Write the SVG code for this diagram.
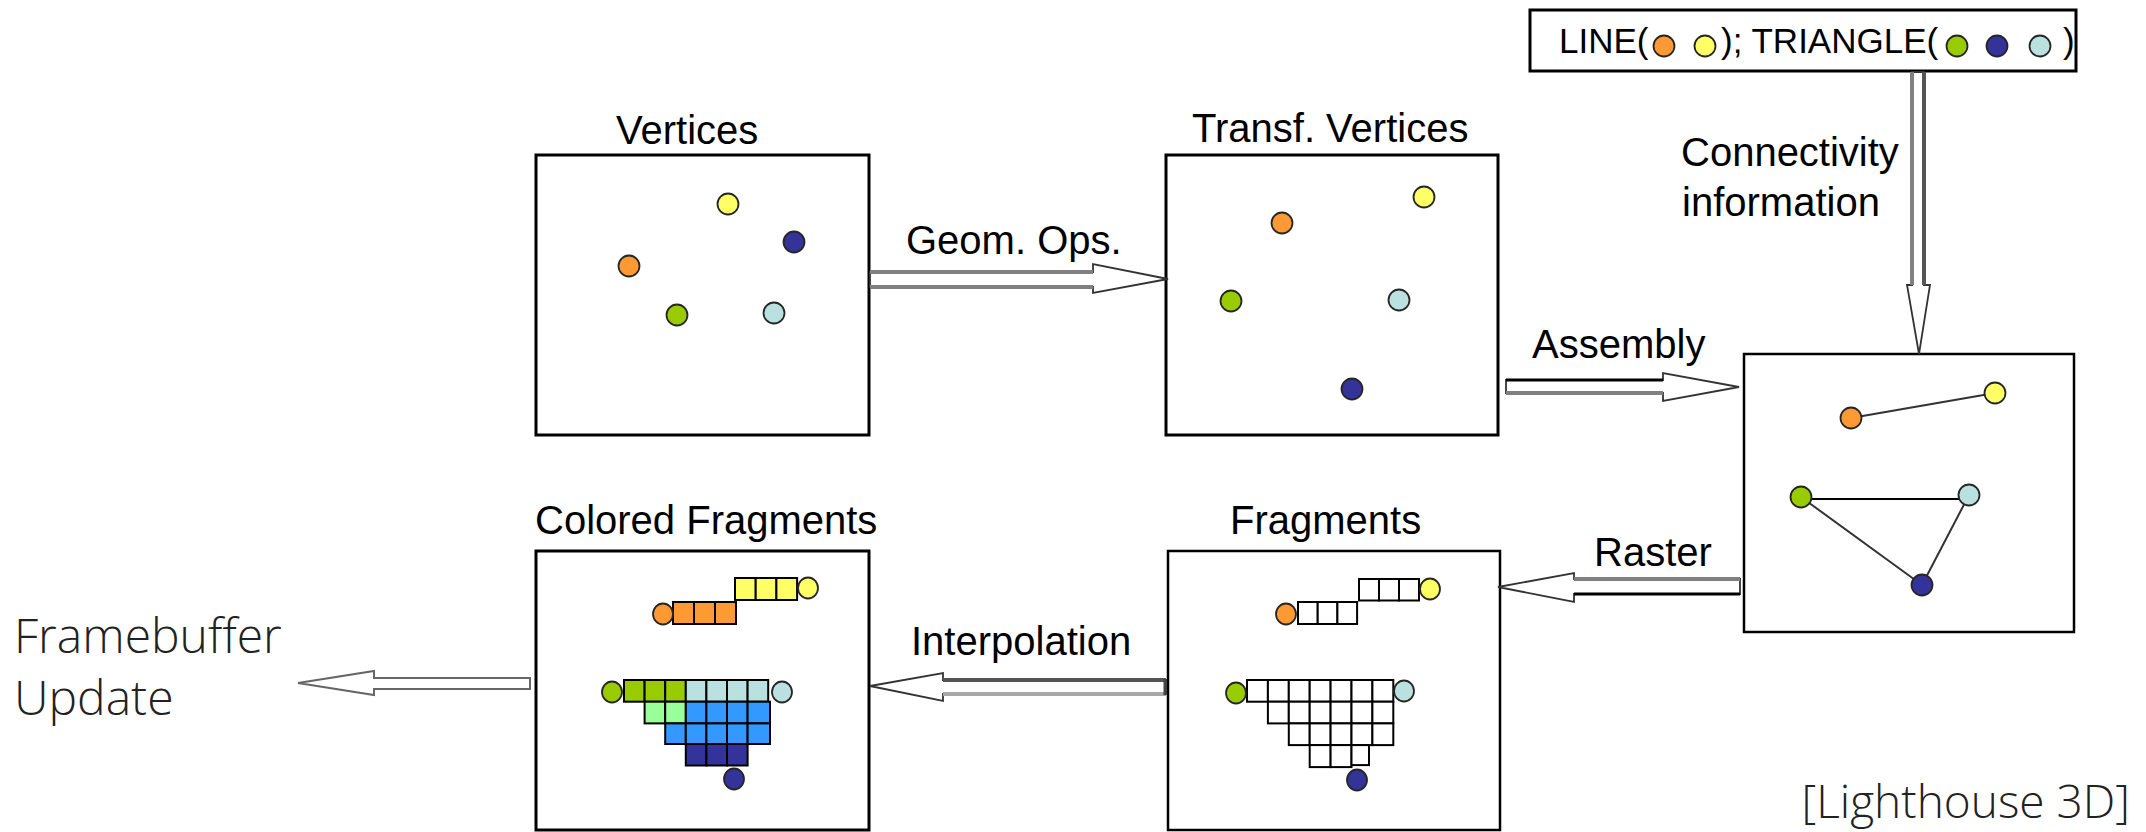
<svg xmlns="http://www.w3.org/2000/svg" width="2146" height="832" viewBox="0 0 2146 832">
  <style>
    .box { fill: #ffffff; stroke: #000000; stroke-width: 3; }
    .box2 { fill: #ffffff; stroke: #000000; stroke-width: 2.5; }
    .lbl { font-family: "Liberation Sans", Arial, sans-serif; font-size: 40px; fill: #000000; }
    .code { font-family: "Liberation Sans", Arial, sans-serif; font-size: 35px; fill: #000000; }
    .note { font-family: "Open Sans", "Liberation Sans", sans-serif; font-weight: 300; font-size: 48px; fill: #222222; }
    .credit { font-family: "Open Sans", "Liberation Sans", sans-serif; font-weight: 300; font-size: 46px; fill: #222222; }
    .dot { stroke: #262626; stroke-width: 1.8; }
    .orange { fill: #ff9933; }
    .yellow { fill: #ffff66; }
    .green { fill: #99cc00; }
    .navy { fill: #333399; }
    .cyan { fill: #bbe0e0; }
    .lgreen { fill: #99ff99; }
    .blue { fill: #3399ff; }
    .cell { stroke: #000000; stroke-width: 2; }
    .wcell { fill: #ffffff; stroke: #000000; stroke-width: 2; }
    .edge { stroke: #333333; stroke-width: 2; fill: none; }
    .head { fill: #ffffff; stroke: #333333; stroke-width: 1.8; stroke-linejoin: miter; }
    .sh-gray { stroke: #808080; stroke-width: 4; }
    .sh-dark { stroke: #555555; stroke-width: 4; }
    .sh-light { stroke: #a8a8a8; stroke-width: 4; }
    .sh-black { stroke: #000000; stroke-width: 3; }
    .fb { fill: #ffffff; stroke: #666666; stroke-width: 2; }
  </style>

  <!-- Vertices -->
  <g id="vertices">
    <text class="lbl" x="616" y="144">Vertices</text>
    <rect class="box" x="536" y="155" width="333" height="280"/>
    <ellipse class="dot yellow" cx="728" cy="204" rx="10.5" ry="10.5"/>
    <ellipse class="dot navy" cx="794" cy="242" rx="10.5" ry="10.5"/>
    <ellipse class="dot orange" cx="629" cy="266" rx="10.5" ry="10.5"/>
    <ellipse class="dot green" cx="677" cy="315" rx="10.5" ry="10.5"/>
    <ellipse class="dot cyan" cx="774" cy="313" rx="10.5" ry="10.5"/>
  </g>

  <!-- Transformed vertices -->
  <g id="transformed-vertices">
    <text class="lbl" x="1192" y="142">Transf. Vertices</text>
    <rect class="box" x="1166" y="155" width="332" height="280"/>
    <ellipse class="dot yellow" cx="1424" cy="197" rx="10.5" ry="10.5"/>
    <ellipse class="dot orange" cx="1282" cy="223" rx="10.5" ry="10.5"/>
    <ellipse class="dot green" cx="1231" cy="301" rx="10.5" ry="10.5"/>
    <ellipse class="dot cyan" cx="1399" cy="300" rx="10.5" ry="10.5"/>
    <ellipse class="dot navy" cx="1352" cy="389" rx="10.5" ry="10.5"/>
  </g>

  <!-- Connectivity information -->
  <g id="connectivity">
    <rect class="box" x="1530" y="10" width="546" height="61"/>
    <text class="code" x="1559" y="53">LINE(</text>
    <ellipse class="dot orange" cx="1664" cy="46" rx="10.5" ry="10.5"/>
    <ellipse class="dot yellow" cx="1705" cy="46" rx="10.5" ry="10.5"/>
    <text class="code" x="1721" y="53">); TRIANGLE(</text>
    <ellipse class="dot green" cx="1957" cy="46" rx="10.5" ry="10.5"/>
    <ellipse class="dot navy" cx="1997" cy="46" rx="10.5" ry="10.5"/>
    <ellipse class="dot cyan" cx="2040" cy="46" rx="10.5" ry="10.5"/>
    <text class="code" x="2063" y="53">)</text>
  </g>

  <!-- Assembled primitives -->
  <g id="primitives">
    <rect class="box2" x="1744" y="354" width="330" height="278"/>
    <line class="edge" x1="1851" y1="418" x2="1995" y2="393"/>
    <line class="edge" x1="1801" y1="497" x2="1922" y2="585"/>
    <line class="edge" x1="1969" y1="495" x2="1922" y2="585"/>
    <line x1="1801" y1="499" x2="1969" y2="499" stroke="#000000" stroke-width="1.8"/>
    <ellipse class="dot orange" cx="1851" cy="418" rx="10.5" ry="10.5"/>
    <ellipse class="dot yellow" cx="1995" cy="393" rx="10.5" ry="10.5"/>
    <ellipse class="dot green" cx="1801" cy="497" rx="10.5" ry="10.5"/>
    <ellipse class="dot cyan" cx="1969" cy="495" rx="10.5" ry="10.5"/>
    <ellipse class="dot navy" cx="1922" cy="585" rx="10.5" ry="10.5"/>
  </g>

  <!-- Fragments -->
  <g id="fragments">
    <text class="lbl" x="1230" y="534">Fragments</text>
    <rect class="box2" x="1168" y="551" width="332" height="279"/>
    <rect class="wcell" x="1359" y="579" width="20" height="21.5"/>
    <rect class="wcell" x="1379" y="579" width="20" height="21.5"/>
    <rect class="wcell" x="1399" y="579" width="20" height="21.5"/>
    <rect class="wcell" x="1298" y="602" width="19.7" height="22"/>
    <rect class="wcell" x="1317.7" y="602" width="19.7" height="22"/>
    <rect class="wcell" x="1337.4" y="602" width="19.7" height="22"/>
    <!-- row 1 -->
    <rect class="wcell" x="1247" y="680" width="20.9" height="21.7"/>
    <rect class="wcell" x="1267.9" y="680" width="20.9" height="21.7"/>
    <rect class="wcell" x="1288.8" y="680" width="20.9" height="21.7"/>
    <rect class="wcell" x="1309.7" y="680" width="20.9" height="21.7"/>
    <rect class="wcell" x="1330.6" y="680" width="20.9" height="21.7"/>
    <rect class="wcell" x="1351.5" y="680" width="20.9" height="21.7"/>
    <rect class="wcell" x="1372.4" y="680" width="20.9" height="21.7"/>
    <!-- row 2 -->
    <rect class="wcell" x="1267.9" y="701.7" width="20.9" height="21.7"/>
    <rect class="wcell" x="1288.8" y="701.7" width="20.9" height="21.7"/>
    <rect class="wcell" x="1309.7" y="701.7" width="20.9" height="21.7"/>
    <rect class="wcell" x="1330.6" y="701.7" width="20.9" height="21.7"/>
    <rect class="wcell" x="1351.5" y="701.7" width="20.9" height="21.7"/>
    <rect class="wcell" x="1372.4" y="701.7" width="20.9" height="21.7"/>
    <!-- row 3 -->
    <rect class="wcell" x="1288.8" y="723.4" width="20.9" height="21.7"/>
    <rect class="wcell" x="1309.7" y="723.4" width="20.9" height="21.7"/>
    <rect class="wcell" x="1330.6" y="723.4" width="20.9" height="21.7"/>
    <rect class="wcell" x="1351.5" y="723.4" width="20.9" height="21.7"/>
    <rect class="wcell" x="1372.4" y="723.4" width="20.9" height="21.7"/>
    <!-- row 4 -->
    <rect class="wcell" x="1309.7" y="745.1" width="20.9" height="22"/>
    <rect class="wcell" x="1330.6" y="745.1" width="20.9" height="22"/>
    <rect class="wcell" x="1351.5" y="745.1" width="17.5" height="20"/>
    <ellipse class="dot yellow" cx="1430" cy="589" rx="10" ry="10.5"/>
    <ellipse class="dot orange" cx="1286" cy="614" rx="10" ry="10.5"/>
    <ellipse class="dot green" cx="1236" cy="693" rx="10" ry="10.5"/>
    <ellipse class="dot cyan" cx="1404" cy="691" rx="10" ry="10.5"/>
    <ellipse class="dot navy" cx="1357" cy="780" rx="10" ry="10.5"/>
  </g>

  <!-- Colored fragments -->
  <g id="colored-fragments">
    <text class="lbl" x="535" y="534">Colored Fragments</text>
    <rect class="box" x="536" y="551" width="333" height="279"/>
    <rect class="cell yellow" x="735" y="578" width="20.7" height="22"/>
    <rect class="cell yellow" x="755.7" y="578" width="20.7" height="22"/>
    <rect class="cell yellow" x="776.4" y="578" width="20.7" height="22"/>
    <rect class="cell orange" x="673" y="602" width="21" height="22"/>
    <rect class="cell orange" x="694" y="602" width="21" height="22"/>
    <rect class="cell orange" x="715" y="602" width="21" height="22"/>
    <!-- row 1 -->
    <rect class="cell green" x="624" y="680" width="20.6" height="21.7"/>
    <rect class="cell green" x="644.6" y="680" width="20.6" height="21.7"/>
    <rect class="cell green" x="665.2" y="680" width="20.6" height="21.7"/>
    <rect class="cell cyan" x="685.8" y="680" width="20.6" height="21.7"/>
    <rect class="cell cyan" x="706.4" y="680" width="20.6" height="21.7"/>
    <rect class="cell cyan" x="727" y="680" width="20.6" height="21.7"/>
    <rect class="cell cyan" x="747.6" y="680" width="20.6" height="21.7"/>
    <!-- row 2 -->
    <rect class="cell lgreen" x="644.6" y="701.7" width="20.6" height="21.7"/>
    <rect class="cell lgreen" x="665.2" y="701.7" width="20.6" height="21.7"/>
    <rect class="cell blue" x="685.8" y="701.7" width="20.6" height="21.7"/>
    <rect class="cell blue" x="706.4" y="701.7" width="20.6" height="21.7"/>
    <rect class="cell blue" x="727" y="701.7" width="20.6" height="21.7"/>
    <rect class="cell blue" x="747.6" y="701.7" width="22.4" height="21.7"/>
    <!-- row 3 -->
    <rect class="cell blue" x="665.2" y="723.4" width="20.6" height="20.6"/>
    <rect class="cell blue" x="685.8" y="723.4" width="20.6" height="20.6"/>
    <rect class="cell blue" x="706.4" y="723.4" width="20.6" height="20.6"/>
    <rect class="cell blue" x="727" y="723.4" width="20.6" height="20.6"/>
    <rect class="cell blue" x="747.6" y="723.4" width="22.4" height="20.6"/>
    <!-- row 4 -->
    <rect class="cell navy" x="685.8" y="744" width="20.6" height="21.5"/>
    <rect class="cell navy" x="706.4" y="744" width="20.6" height="21.5"/>
    <rect class="cell navy" x="727" y="744" width="20.6" height="21.5"/>
    <ellipse class="dot yellow" cx="808" cy="588" rx="10" ry="10.5"/>
    <ellipse class="dot orange" cx="663" cy="614" rx="10" ry="10.5"/>
    <ellipse class="dot green" cx="612" cy="692" rx="10" ry="10.5"/>
    <ellipse class="dot cyan" cx="782" cy="692" rx="10" ry="10.5"/>
    <ellipse class="dot navy" cx="734" cy="779" rx="10" ry="10.5"/>
  </g>

  <!-- Framebuffer update -->
  <g id="framebuffer">
    <text class="note" x="14" y="653">Framebuffer</text>
    <text class="note" x="14" y="715">Update</text>
  </g>

  <!-- Pipeline connectors -->
  <g id="connectors">
    <!-- Geom. Ops. -->
    <polygon class="head" points="870,272 1093,272 1093,264 1168,279 1093,293 1093,287 870,287"/>
    <line class="sh-gray" x1="870" y1="272" x2="1093" y2="272"/>
    <line class="sh-gray" x1="870" y1="287" x2="1093" y2="287"/>
    <text class="lbl" x="906" y="254">Geom. Ops.</text>

    <!-- Assembly -->
    <polygon class="head" points="1506,380 1663,380 1663,373 1739,387 1663,401 1663,393 1506,393"/>
    <line class="sh-black" x1="1506" y1="380" x2="1663" y2="380"/>
    <line class="sh-gray" x1="1506" y1="393" x2="1663" y2="393"/>
    <text class="lbl" x="1532" y="358">Assembly</text>

    <!-- Connectivity information -->
    <polygon class="head" points="1912,72 1912,285 1907,285 1919,354 1930,285 1924,285 1924,72"/>
    <line class="sh-gray" x1="1912" y1="72" x2="1912" y2="285"/>
    <line class="sh-dark" x1="1924" y1="72" x2="1924" y2="285"/>
    <text class="lbl" x="1681" y="166">Connectivity</text>
    <text class="lbl" x="1682" y="216">information</text>

    <!-- Raster -->
    <polygon class="head" points="1740,579 1574,579 1574,573 1498,587 1574,602 1574,594 1740,594"/>
    <line class="sh-gray" x1="1740" y1="579" x2="1574" y2="579"/>
    <line class="sh-black" x1="1740" y1="594" x2="1574" y2="594"/>
    <text class="lbl" x="1594" y="566">Raster</text>

    <!-- Interpolation -->
    <polygon class="head" points="1166,680 943,680 943,673 870,686 943,701 943,694 1166,694"/>
    <line class="sh-dark" x1="1166" y1="680" x2="943" y2="680"/>
    <line class="sh-light" x1="1166" y1="694" x2="943" y2="694"/>
    <line x1="1165" y1="679" x2="1165" y2="695" stroke="#444444" stroke-width="3"/>
    <text class="lbl" x="911" y="655">Interpolation</text>

    <!-- To framebuffer -->
    <polygon class="fb" points="530,678 374,678 374,671 298,683 374,695 374,689 530,689"/>
  </g>

  <text class="credit" x="2130" y="818" text-anchor="end">[Lighthouse 3D]</text>
</svg>
